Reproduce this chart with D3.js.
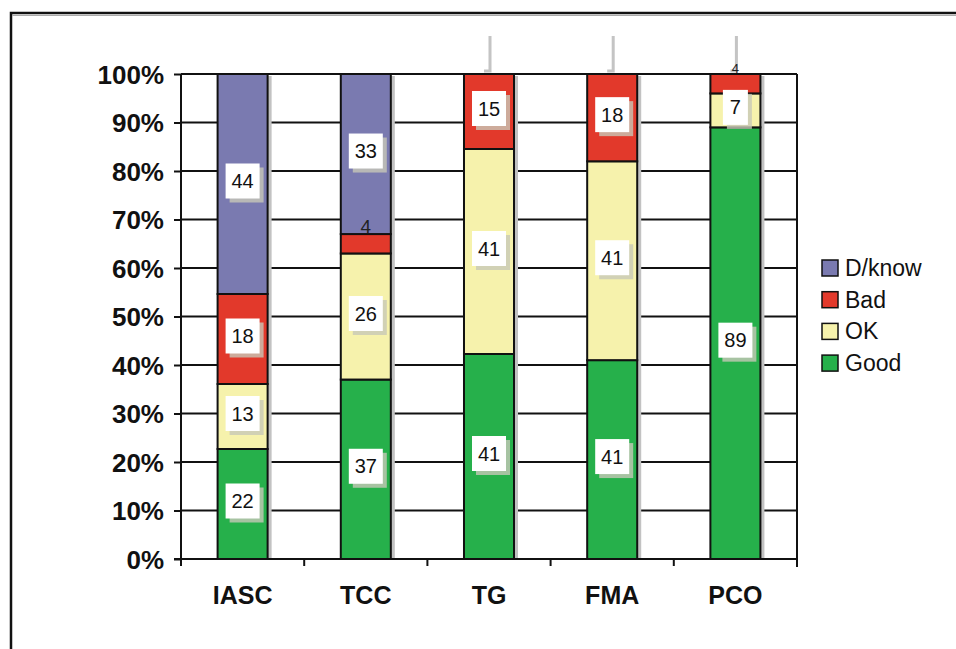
<!DOCTYPE html>
<html>
<head>
<meta charset="utf-8">
<script src="https://cdn.jsdelivr.net/npm/d3@7"></script>
<style>
  html, body { margin: 0; padding: 0; background: #fff; }
  svg { display: block; font-family: "Liberation Sans", Arial, sans-serif; }
</style>
</head>
<body>
<svg id="chart" width="956" height="649"></svg>
<script>
// ---- data ----
const categories = ["IASC", "TCC", "TG", "FMA", "PCO"];
const seriesNames = ["Good", "OK", "Bad", "D/know"];
const good  = [22, 37, 41, 41, 89];
const ok    = [13, 26, 41, 41, 7];
const bad   = [18, 4, 15, 18, 4];
const dknow = [44, 33, 0, 0, 0];
const yTicks = [0, 0.1, 0.2, 0.3, 0.4, 0.5, 0.6, 0.7, 0.8, 0.9, 1.0];
const legendOrder = ["D/know", "Bad", "OK", "Good"];
const leaderCats = ["TG", "FMA", "PCO"];

const colors = { "Good": "#26b04b", "OK": "#f6f2ac", "Bad": "#e2392b", "D/know": "#7a7ab0" };

const rows = categories.map((c, i) => ({ cat: c, "Good": good[i], "OK": ok[i], "Bad": bad[i], "D/know": dknow[i] }));

const svg = d3.select("#chart");
const pLeft = 181, pRight = 797, pTop = 74, pBottom = 559;

// frame
svg.append("rect").attr("x", 11).attr("y", 13).attr("width", 960).attr("height", 660)
  .attr("fill", "none").attr("stroke", "#111").attr("stroke-width", 2.5);
svg.append("line").attr("x1", 12).attr("x2", 956).attr("y1", 15.5).attr("y2", 15.5)
  .attr("stroke", "#aaa").attr("stroke-width", 1);

const x = d3.scaleBand().domain(categories).range([pLeft, pRight]).paddingInner(0.594).paddingOuter(0.297);
const y = d3.scaleLinear().domain([0, 1]).range([pBottom, pTop]);

const stack = d3.stack().keys(seriesNames).offset(d3.stackOffsetExpand);
const stacked = stack(rows);

// gridlines
svg.append("g").selectAll("line").data(yTicks.filter(t => t > 0)).join("line")
  .attr("x1", pLeft).attr("x2", pRight).attr("y1", d => y(d)).attr("y2", d => y(d))
  .attr("stroke", "#111").attr("stroke-width", 2);
// right border
svg.append("line").attr("x1", pRight).attr("x2", pRight).attr("y1", pTop).attr("y2", pBottom + 8)
  .attr("stroke", "#111").attr("stroke-width", 2);

// leader lines at top
const lg = svg.append("g");
leaderCats.forEach(c => {
  const cx = x(c) + x.bandwidth() / 2 + 1;
  lg.append("path").attr("d", `M${cx},36 L${cx},71 L${cx - 6},71`)
    .attr("fill", "none").attr("stroke", "#c4c4c4").attr("stroke-width", 3);
});

// bar shadows
svg.append("g").selectAll("rect").data(categories).join("rect")
  .attr("x", d => x(d) + x.bandwidth()).attr("y", pTop + 2)
  .attr("width", 4).attr("height", pBottom - pTop - 2).attr("fill", "#c2c2c2");

// bars
const barG = svg.append("g");
stacked.forEach(layer => {
  barG.selectAll(null).data(layer.filter(d => d[1] - d[0] > 0)).join("rect")
    .attr("x", d => x(d.data.cat)).attr("width", x.bandwidth())
    .attr("y", d => y(d[1])).attr("height", d => y(d[0]) - y(d[1]))
    .attr("fill", colors[layer.key]).attr("stroke", "#111").attr("stroke-width", 2);
});

// labels
const labG = svg.append("g");
stacked.forEach(layer => {
  layer.forEach(d => {
    const v = d.data[layer.key];
    if (v <= 0) return;
    const cx = x(d.data.cat) + x.bandwidth() / 2;
    if (v < 5) {
      labG.append("text").attr("x", cx).attr("y", y(d[1]) - 1)
        .attr("text-anchor", "middle").attr("font-size", y(d[1]) <= pTop ? 13 : 19).attr("fill", "#222").text(v);
      return;
    }
    const cy = (y(d[0]) + y(d[1])) / 2 - 3;
    const w = String(v).length > 1 ? 34 : 25, h = 35;
    labG.append("rect").attr("x", cx - w / 2 + 4).attr("y", cy - h / 2 + 4).attr("width", w).attr("height", h).attr("fill", "#c8c8b8").attr("opacity", 0.8);
    labG.append("rect").attr("x", cx - w / 2).attr("y", cy - h / 2).attr("width", w).attr("height", h).attr("fill", "#fff");
    labG.append("text").attr("x", cx).attr("y", cy + 7).attr("text-anchor", "middle")
      .attr("font-size", 20).attr("fill", "#111").text(v);
  });
});

// y axis
const yAxis = d3.axisLeft(y).tickValues(yTicks).tickFormat(d3.format(".0%")).tickSize(7).tickPadding(10);
const ya = svg.append("g").attr("transform", `translate(${pLeft},0)`).call(yAxis);
ya.select(".domain").attr("stroke", "#111").attr("stroke-width", 2).attr("d", `M0,${pTop}V${pBottom}`);
ya.selectAll(".tick line").attr("stroke", "#111").attr("stroke-width", 2);
ya.selectAll(".tick text").attr("font-size", 26).attr("font-weight", "bold").attr("fill", "#111")
  .attr("font-family", "Liberation Sans, Arial, sans-serif").attr("dy", "0.36em");

// x axis
const xa = svg.append("g").attr("transform", `translate(0,${pBottom})`);
xa.append("line").attr("x1", pLeft - 7).attr("x2", pRight).attr("y1", 0).attr("y2", 0).attr("stroke", "#111").attr("stroke-width", 2);
const tickXs = categories.map(c => x(c) - x.step() * 0.297).concat([pRight]);
xa.selectAll("line.tk").data(tickXs).join("line").attr("class", "tk")
  .attr("x1", d => d).attr("x2", d => d).attr("y1", 0).attr("y2", 7).attr("stroke", "#111").attr("stroke-width", 2);
xa.selectAll("text").data(categories).join("text")
  .attr("x", d => x(d) + x.bandwidth() / 2).attr("y", 45)
  .attr("text-anchor", "middle").attr("font-size", 25).attr("font-weight", "bold").attr("fill", "#111").text(d => d);

// legend
const leg = svg.append("g");
legendOrder.forEach((k, i) => {
  const ly = 268 + i * 31.7;
  leg.append("rect").attr("x", 822).attr("y", ly - 8).attr("width", 16).attr("height", 16)
    .attr("fill", colors[k]).attr("stroke", "#111").attr("stroke-width", 1.5);
  leg.append("text").attr("x", 845).attr("y", ly + 8).attr("font-size", 23).attr("fill", "#111").text(k);
});
</script>
</body>
</html>
